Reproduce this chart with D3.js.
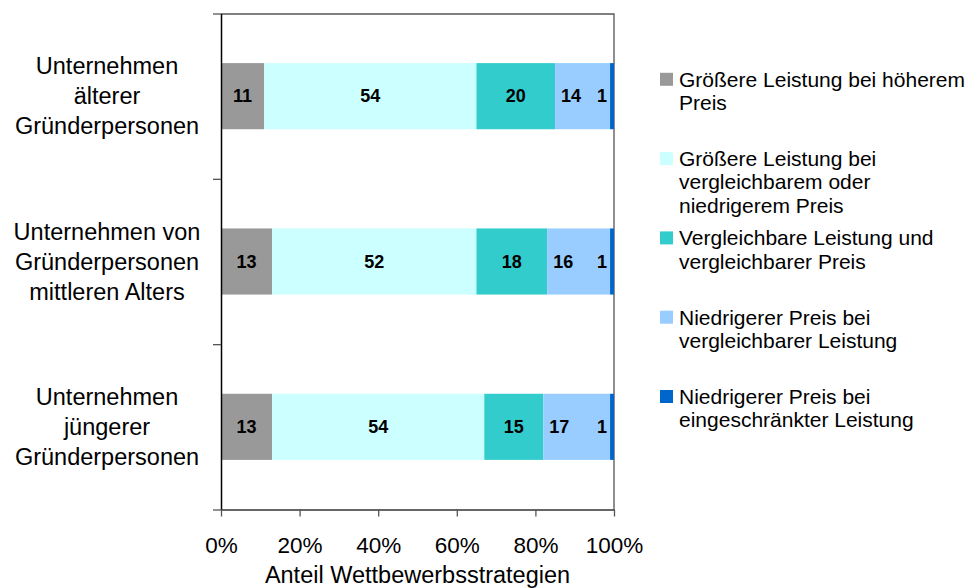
<!DOCTYPE html>
<html>
<head>
<meta charset="utf-8">
<script src="https://cdn.jsdelivr.net/npm/d3@7"></script>
<style>
  body { margin: 0; background: #fff; }
  svg { font-family: "Liberation Sans", Arial, sans-serif; }
</style>
</head>
<body>
<div class="chart"></div>
<script>
// Stacked 100% bar chart - Wettbewerbsstrategien

// Data
var categories = [
  ["Unternehmen", "älterer", "Gründerpersonen"],
  ["Unternehmen von", "Gründerpersonen", "mittleren Alters"],
  ["Unternehmen", "jüngerer", "Gründerpersonen"]
];
var seriesNames = [
  ["Größere Leistung bei höherem", "Preis"],
  ["Größere Leistung bei", "vergleichbarem oder", "niedrigerem Preis"],
  ["Vergleichbare Leistung und", "vergleichbarer Preis"],
  ["Niedrigerer Preis bei", "vergleichbarer Leistung"],
  ["Niedrigerer Preis bei", "eingeschränkter Leistung"]
];
var seriesColors = ["#999999", "#ccffff", "#33cccc", "#99ccff", "#0066cc"];
var values = [
  [11, 54, 20, 14, 1],
  [13, 52, 18, 16, 1],
  [13, 54, 15, 17, 1]
];
var xTicks = [0, 20, 40, 60, 80, 100];
var xTitle = "Anteil Wettbewerbsstrategien";

// Dimensions
var svgWidth = 975;
var svgHeight = 588;
var margin = { top: 13.5, right: 361, bottom: 78.5, left: 221 };
var width = svgWidth - margin.left - margin.right;
var height = svgHeight - margin.top - margin.bottom;

var svg = d3.select(".chart")
  .append("svg")
  .attr("width", svgWidth)
  .attr("height", svgHeight);

var chartGroup = svg.append("g")
  .attr("transform", `translate(${margin.left}, ${margin.top})`);

// Scales
var xScale = d3.scaleLinear().domain([0, 100]).range([0, width]);
var yScale = d3.scaleBand()
  .domain(d3.range(categories.length))
  .range([0, height])
  .paddingInner(0.6)
  .paddingOuter(0.3);
var yTickScale = d3.scaleLinear().domain([0, categories.length]).range([0, height]);

// Plot frame (top and right)
chartGroup.append("path")
  .attr("d", `M0,0.5H${width}V${height}`)
  .attr("fill", "none")
  .attr("stroke", "#555")
  .attr("stroke-width", 1.3);

// Stacked bars
var stackRows = values.map(function(row, i) {
  var acc = 0;
  return row.map(function(v, j) {
    var seg = { cat: i, series: j, value: v, x0: acc, x1: acc + v };
    acc += v;
    return seg;
  });
});

var rows = chartGroup.selectAll(".row")
  .data(stackRows)
  .enter()
  .append("g")
  .attr("class", "row");

rows.selectAll("rect")
  .data(d => d)
  .enter()
  .append("rect")
  .attr("x", d => xScale(d.x0))
  .attr("y", d => yScale(d.cat))
  .attr("width", d => xScale(d.x1) - xScale(d.x0))
  .attr("height", yScale.bandwidth())
  .attr("fill", d => seriesColors[d.series]);

// Data labels (small end segments are moved left so they do not collide)
rows.selectAll("text")
  .data(d => d)
  .enter()
  .append("text")
  .text(d => d.value)
  .attr("x", function(d) {
    if (d.series === 4) return xScale(d.x0) - 3;
    if (d.series === 3) return xScale(d.x0) + 6;
    return (xScale(d.x0) + xScale(d.x1)) / 2;
  })
  .attr("y", d => yScale(d.cat) + yScale.bandwidth() / 2)
  .attr("dy", "0.35em")
  .attr("text-anchor", function(d) {
    if (d.series === 4) return "end";
    if (d.series === 3) return "start";
    return "middle";
  })
  .attr("font-size", 18)
  .attr("font-weight", "bold")
  .attr("fill", "#000");

// Left axis
var leftAxis = d3.axisLeft(yTickScale)
  .tickValues(d3.range(categories.length + 1))
  .tickFormat("")
  .tickSize(8)
  .tickSizeOuter(0);
var yAxisG = chartGroup.append("g").call(leftAxis);
yAxisG.select(".domain").attr("stroke", "#000").attr("stroke-width", 1.5);
yAxisG.selectAll(".tick line").attr("stroke", "#555").attr("stroke-width", 1.3);

// Bottom axis
var bottomAxis = d3.axisBottom(xScale)
  .tickValues(xTicks)
  .tickFormat(d => d + "%")
  .tickSize(7)
  .tickSizeOuter(0)
  .tickPadding(10);
var xAxisG = chartGroup.append("g")
  .attr("transform", `translate(0, ${height})`)
  .call(bottomAxis);
xAxisG.select(".domain").attr("stroke", "#333").attr("stroke-width", 1.5);
xAxisG.selectAll(".tick line").attr("stroke", "#555").attr("stroke-width", 1.3);
xAxisG.selectAll(".tick text")
  .attr("font-size", 22.5)
  .attr("font-family", "Liberation Sans, Arial, sans-serif")
  .attr("fill", "#000")
  .attr("dy", "1.18em");

// Category labels
var lineH = 30;
chartGroup.selectAll(".cat")
  .data(categories)
  .enter()
  .append("text")
  .attr("class", "cat")
  .attr("text-anchor", "middle")
  .attr("font-size", 23.5)
  .attr("fill", "#000")
  .each(function(lines, i) {
    var cy = yScale(i) + yScale.bandwidth() / 2;
    var t = d3.select(this);
    lines.forEach(function(l, k) {
      t.append("tspan")
        .attr("x", 107 - margin.left)
        .attr("y", cy + (k - (lines.length - 1) / 2) * lineH)
        .attr("dy", "0.35em")
        .text(l);
    });
  });

// Axis title
svg.append("text")
  .attr("x", margin.left + width / 2)
  .attr("y", 583)
  .attr("text-anchor", "middle")
  .attr("font-size", 23.5)
  .attr("fill", "#000")
  .text(xTitle);

// Legend
var legend = svg.append("g").attr("transform", "translate(660, 79.3)");
var legendStep = 79.3;
var legendLine = 23.5;
var items = legend.selectAll(".item")
  .data(seriesNames)
  .enter()
  .append("g")
  .attr("class", "item")
  .attr("transform", (d, i) => `translate(0, ${i * legendStep})`);

items.append("rect")
  .attr("x", 0)
  .attr("y", -6.5)
  .attr("width", 13)
  .attr("height", 13)
  .attr("fill", (d, i) => seriesColors[i]);

items.append("text")
  .attr("font-size", 21)
  .attr("fill", "#000")
  .each(function(lines) {
    var t = d3.select(this);
    lines.forEach(function(l, k) {
      t.append("tspan")
        .attr("x", 19)
        .attr("y", k * legendLine)
        .attr("dy", "0.35em")
        .text(l);
    });
  });
</script>
</body>
</html>
